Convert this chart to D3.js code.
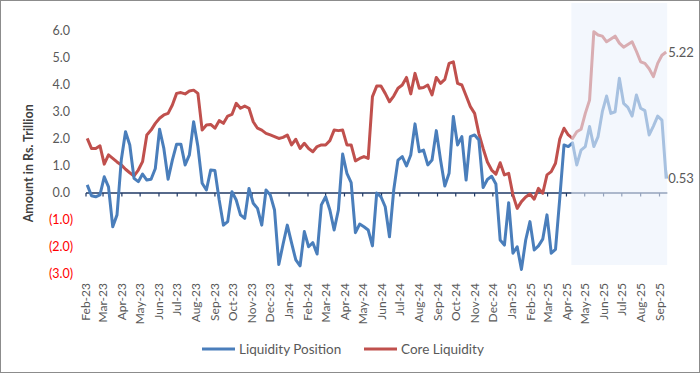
<!DOCTYPE html>
<html>
<head>
<meta charset="utf-8">
<script src="https://cdn.jsdelivr.net/npm/d3@7"></script>
<style>
  html, body { margin: 0; padding: 0; background: #fff; }
  svg { display: block; }
  text { font-family: "Lato", "Open Sans", sans-serif; }
</style>
</head>
<body>
<svg id="chart" width="700" height="373"></svg>
<script>
// ---- data (weekly, Fridays, Feb-2023 .. Sep-2025), Rs. Trillion ----
const seriesNames = ["Liquidity Position", "Core Liquidity"];
const firstWeek = "2023-02-03";
const lastWeek = "2025-09-12";

const liquidityPosition = [
  0.30, -0.10, -0.14, -0.07, 0.60, 0.23, -1.25, -0.81, 1.22, 2.27,
  1.78, 0.54, 0.42, 0.70, 0.48, 0.51, 0.91, 2.36, 1.65, 0.51,
  1.22, 1.81, 1.81, 1.04, 1.41, 2.64, 1.72, 0.36, 0.11, 0.85,
  0.83, -0.26, -1.19, -1.06, 0.05, -0.26, -0.81, -0.94, 0.17, -0.38,
  -0.57, -1.19, 0.11, -0.07, -0.63, -2.65, -1.90, -1.19, -1.85, -2.48,
  -2.70, -1.43, -1.99, -1.84, -2.26, -0.44, -0.14, -0.63, -1.37, -0.63,
  1.44, 0.73, 0.38, -1.47, -1.15, -1.25, -1.37, -1.96, 0.00, -0.14,
  -0.51, -1.62, 0.11, 1.22, 1.35, 1.00, 1.41, 2.56, 1.53, 1.59,
  1.04, 1.22, 2.31, 1.22, 0.26, 0.73, 2.83, 1.78, 2.09, 0.48,
  2.09, 2.15, 1.96, 0.20, 0.50, 0.62, 0.33, -1.74, -1.93, -0.36,
  -2.23, -1.99, -2.83, -1.74, -1.06, -2.11, -1.96, -1.71, -0.81, -2.23,
  -2.09, -0.20, 1.78, 1.72, 1.86, 1.04, 1.59, 1.72, 2.46, 1.72,
  2.09, 3.01, 3.59, 2.95, 3.01, 4.25, 3.32, 3.17, 2.85, 3.63,
  3.14, 3.05, 2.15, 2.48, 2.85, 2.70, 0.53
];

const coreLiquidity = [
  2.02, 1.65, 1.65, 1.75, 1.07, 1.41, 1.28, 1.15, 1.04, 0.88,
  0.75, 0.63, 0.85, 1.16, 2.15, 2.33, 2.58, 2.77, 2.89, 2.95,
  3.26, 3.69, 3.72, 3.67, 3.78, 3.81, 3.69, 2.33, 2.52, 2.54,
  2.40, 2.68, 2.58, 2.85, 2.91, 3.32, 3.14, 3.22, 3.14, 2.64,
  2.40, 2.33, 2.21, 2.15, 2.09, 2.02, 2.06, 2.15, 1.78, 1.99,
  1.65, 1.84, 1.65, 1.53, 1.72, 1.78, 1.78, 1.94, 2.33, 2.31,
  2.33, 1.78, 1.78, 1.19, 1.28, 1.35, 1.28, 3.57, 3.96, 3.96,
  3.69, 3.38, 3.59, 3.88, 4.00, 4.28, 3.67, 4.43, 3.88, 3.91,
  4.00, 3.63, 4.28, 4.06, 4.21, 4.80, 4.86, 4.06, 4.00, 3.60,
  3.20, 2.95, 2.20, 1.65, 1.15, 0.85, 0.70, 1.12, 0.67, 0.73,
  -0.07, -0.57, -0.32, -0.15, -0.04, -0.23, 0.17, -0.01, 0.67, 0.79,
  1.10, 2.00, 2.40, 2.15, 2.02, 2.27, 2.36, 2.95, 3.44, 5.97,
  5.85, 5.81, 5.60, 5.70, 5.81, 5.55, 5.40, 5.50, 5.60, 5.25,
  4.86, 4.80, 4.60, 4.31, 4.80, 5.10, 5.22
];

const yTicks = [-3, -2, -1, 0, 1, 2, 3, 4, 5, 6];
const yDomain = [-3, 6];
const xDomain = ["2023-02-01", "2025-09-01"];
const projectionStart = "2025-04-09";
const endLabels = ["0.53", "5.22"];
const yTitle = "Amount in Rs. Trillion";

// ---- drawing ----
const parse = d3.timeParse("%Y-%m-%d");
const weeks = d3.timeFriday.range(parse(firstWeek), d3.timeDay.offset(parse(lastWeek), 1));

const svg = d3.select("#chart");
const W = 700, H = 373;

const x = d3.scaleTime()
  .domain(xDomain.map(parse))
  .range([86, 659.5]);
const y = d3.scaleLinear().domain(yDomain).range([274, 31]);

// outer border
svg.append("rect").attr("x", 0.5).attr("y", 0.5)
  .attr("width", W - 1).attr("height", H - 1)
  .attr("fill", "#fff").attr("stroke", "#8c8c8c").attr("stroke-width", 1);

// y axis labels
const fmt = v => v < 0 ? "(" + d3.format(".1f")(-v) + ")" : d3.format(".1f")(v);
svg.append("g").selectAll("text").data(yTicks).join("text")
  .attr("x", d => d < 0 ? 73 : 70)
  .attr("y", d => y(d))
  .attr("dy", "0.35em")
  .attr("text-anchor", "end")
  .attr("font-size", 12.5)
  .attr("fill", d => d < 0 ? "#ff0000" : "#595959")
  .text(fmt);

// y title
svg.append("text")
  .attr("transform", `translate(33,${y(1.1)}) rotate(-90)`)
  .attr("text-anchor", "middle")
  .attr("font-size", 12.5)
  .attr("font-weight", 700)
  .attr("fill", "#404040")
  .text(yTitle);

// zero axis + month ticks
const months = d3.timeMonth.range(parse(xDomain[0]), d3.timeDay.offset(parse(xDomain[1]), 1));
const xEnd = x(weeks[weeks.length - 1]) + 1;
const axisG = svg.append("g");
axisG.append("line")
  .attr("x1", x(months[0])).attr("x2", xEnd)
  .attr("y1", y(0)).attr("y2", y(0))
  .attr("stroke", "#1f3864").attr("stroke-width", 1.5);
axisG.selectAll("line.tick").data(months).join("line")
  .attr("class", "tick")
  .attr("x1", d => x(d)).attr("x2", d => x(d))
  .attr("y1", y(0)).attr("y2", y(0) + 3.5)
  .attr("stroke", "#1f3864").attr("stroke-width", 1.2);

// x labels
const mfmt = d3.timeFormat("%b-%y");
svg.append("g").selectAll("text").data(months).join("text")
  .attr("transform", d => `translate(${x(d)},283) rotate(-90)`)
  .attr("text-anchor", "end")
  .attr("dy", "0.35em")
  .attr("font-size", 12)
  .attr("fill", "#595959")
  .text(d => mfmt(d));

// lines
const line = d3.line().x((d, i) => x(weeks[i])).y(d => y(d));
svg.append("path").datum(coreLiquidity)
  .attr("d", line).attr("fill", "none")
  .attr("stroke", "#c0504d").attr("stroke-width", 3)
  .attr("stroke-linejoin", "round");
svg.append("path").datum(liquidityPosition)
  .attr("d", line).attr("fill", "none")
  .attr("stroke", "#4a7ebb").attr("stroke-width", 3)
  .attr("stroke-linejoin", "round");

// projection shading overlay
const px0 = x(parse(projectionStart));
svg.append("rect")
  .attr("x", px0).attr("y", 3)
  .attr("width", xEnd - px0).attr("height", 262)
  .attr("fill", "rgb(235,242,252)").attr("fill-opacity", 0.58);

// end labels
const lastIdx = weeks.length - 1;
svg.append("text").attr("x", x(weeks[lastIdx]) + 2).attr("y", y(liquidityPosition[lastIdx]))
  .attr("dy", "0.35em").attr("font-size", 13).attr("fill", "#595959").text(endLabels[0]);
svg.append("text").attr("x", x(weeks[lastIdx]) + 2).attr("y", y(coreLiquidity[lastIdx]))
  .attr("dy", "0.35em").attr("font-size", 13).attr("fill", "#595959").text(endLabels[1]);

// legend
const legend = svg.append("g");
const legendItems = [
  { name: seriesNames[0], color: "#4a7ebb", x: 202 },
  { name: seriesNames[1], color: "#c0504d", x: 364 }
];
legendItems.forEach(it => {
  legend.append("line").attr("x1", it.x).attr("x2", it.x + 33)
    .attr("y1", 349).attr("y2", 349)
    .attr("stroke", it.color).attr("stroke-width", 3);
  legend.append("text").attr("x", it.x + 37).attr("y", 349)
    .attr("dy", "0.35em").attr("font-size", 13.5).attr("fill", "#595959")
    .text(it.name);
});
</script>
</body>
</html>
